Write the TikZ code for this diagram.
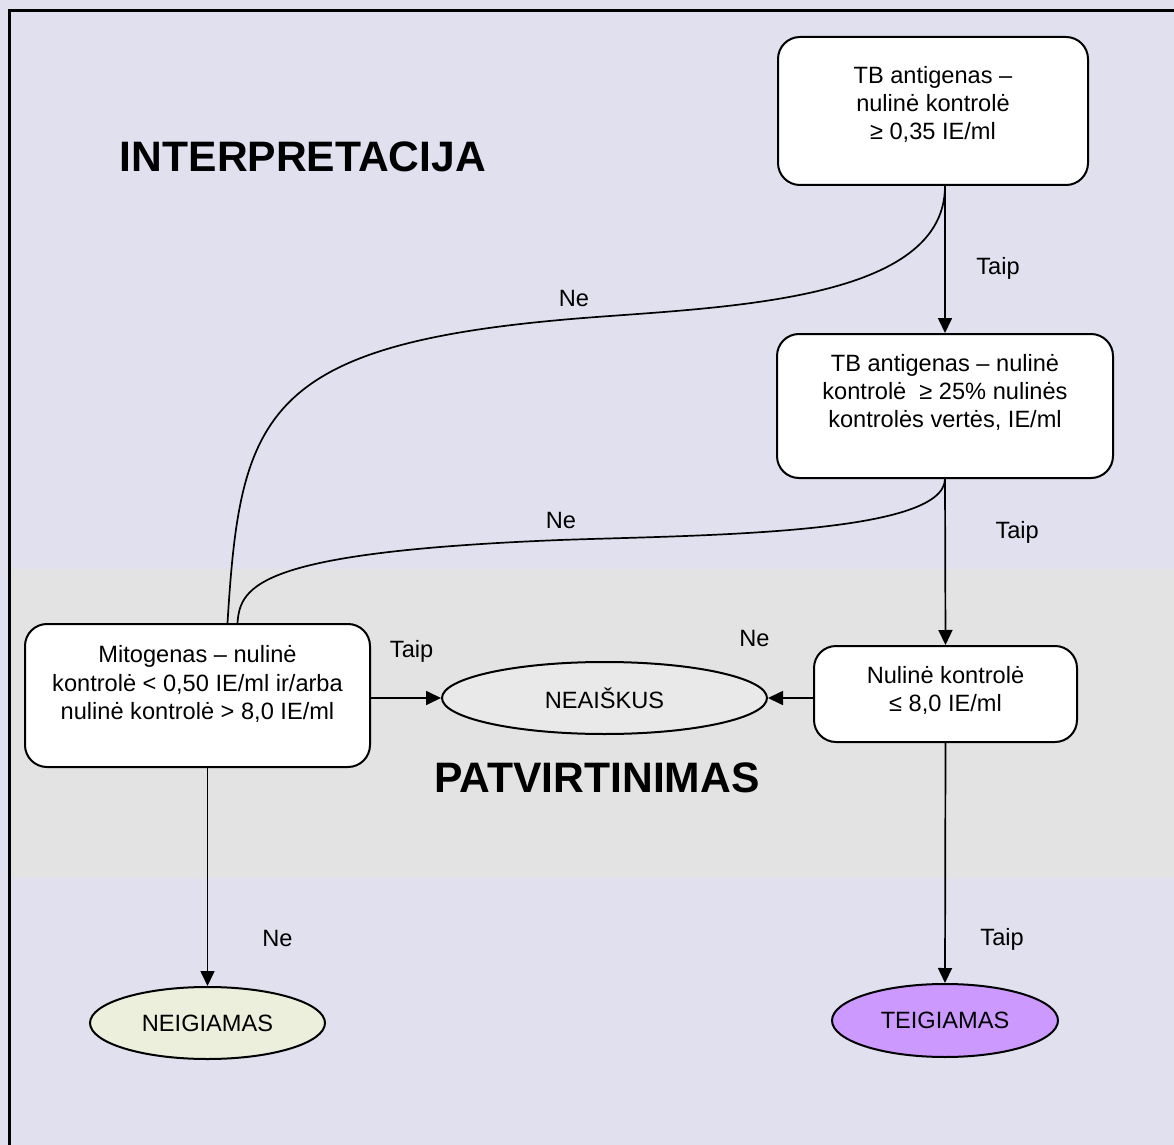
\documentclass[tikz,border=0pt]{standalone}
\usepackage{fontspec}
\setmainfont{Liberation Sans}
\usepackage{tikz}
\usetikzlibrary{arrows.meta,shapes.geometric}
\definecolor{pagebg}{RGB}{224,224,238}
\definecolor{bandbg}{RGB}{227,227,227}
\definecolor{unclear}{RGB}{233,233,233}
\definecolor{negative}{RGB}{235,239,219}
\definecolor{positive}{RGB}{204,153,255}
\tikzset{
  test/.style={draw, line width=1pt, rounded corners=11pt, fill=white, align=center,
    font=\fontsize{11.8}{14.2}\selectfont, inner sep=2pt},
  result/.style={draw, line width=1pt, ellipse, align=center,
    font=\fontsize{11.8}{14.2}\selectfont, inner sep=0pt},
  flow/.style={line width=0.85pt, -{Triangle[length=7.5pt,width=7pt]}},
  link/.style={line width=0.85pt},
  lbl/.style={font=\fontsize{11.8}{14.2}\selectfont, inner sep=1pt},
  title/.style={font=\fontsize{21.3}{25}\selectfont\bfseries}
}

\begin{document}
\begin{tikzpicture}[x=0.5pt, y=-0.5pt]
    \useasboundingbox (0,0) rectangle (1174,1145);
    \clip (0,0) rectangle (1174,1145);
    % background and band
    \fill[pagebg] (0,0) rectangle (1174,1145);
    \fill[bandbg] (9,569) rectangle (1174,878);
    \draw[line width=1.5pt] (9,11) rectangle (1200,1170);

    \node[title] (interp) at (303,157) {INTERPRETACIJA};
    \node[title] (confirm) at (597,778) {PATVIRTINIMAS};

    \node[test, minimum width=155pt, minimum height=74pt, text depth=8pt] (box1) at (933,111)
      {TB antigenas --\\nulinė kontrolė\\ ≥ 0,35 IE/ml};
    \node[test, minimum width=168pt, minimum height=72pt, text depth=15pt] (box2) at (945,406)
      {TB antigenas -- nulinė\\kontrolė \ ≥ 25\% nulinės\\kontrolės vertės, IE/ml};
    \node[test, minimum width=172.5pt, minimum height=71.5pt, text depth=13pt] (mito) at (197.5,695.5)
      {Mitogenas -- nulinė\\kontrolė < 0,50 IE/ml ir/arba\\ nulinė kontrolė > 8,0 IE/ml};
    \node[test, minimum width=131.5pt, minimum height=48pt, text depth=5pt] (nul) at (945.5,694)
      {Nulinė kontrolė\\≤ 8,0 IE/ml};

    \node[result, fill=unclear, minimum width=162.5pt, minimum height=36pt] (neaisk) at (604.5,698) {NEAIŠKUS};
    \node[result, fill=negative, minimum width=117.5pt, minimum height=36pt] (neig) at (207.5,1023) {NEIGIAMAS};
    \node[result, fill=positive, minimum width=113pt, minimum height=36.5pt] (teig) at (945,1020.5) {TEIGIAMAS};

    % yes / no branches
    \draw[flow] (box1.south -| box2.north) -- node[lbl, pos=0.56, xshift=26.5pt] {Taip} (box2.north);
    \draw[flow] (box2.south) -- node[lbl, pos=0.32, xshift=36pt] {Taip} (nul.north);
    \draw[flow] (nul.south) -- node[lbl, pos=0.82, xshift=28.5pt] {Taip} (teig.north);
    \draw[flow] (mito.east |- neaisk.east) -- node[lbl, pos=0.58, yshift=23.5pt] {Taip} (neaisk.west);
    \draw[flow] (nul.west |- neaisk.east) -- node[lbl, pos=1.3, yshift=30pt] {Ne} (neaisk.east);
    \draw[flow] (neig.north |- mito.south) -- node[lbl, pos=0.78, xshift=35pt] {Ne} (neig.north);

    \draw[link] (box1.south -| box2.north) .. controls (945,308) and (700,307) .. (560,320)
      node[lbl, xshift=7pt, yshift=11pt] {Ne}
      .. controls (260,347) and (240,420) .. ([xshift=15pt]mito.north);
    \draw[link] (box2.south) .. controls (944,535) and (700,535) .. (560,540)
      node[lbl, xshift=0.5pt, yshift=10pt] {Ne}
      .. controls (260,552) and (240,585) .. ([xshift=20pt]mito.north);
  \end{tikzpicture}
\end{document}
